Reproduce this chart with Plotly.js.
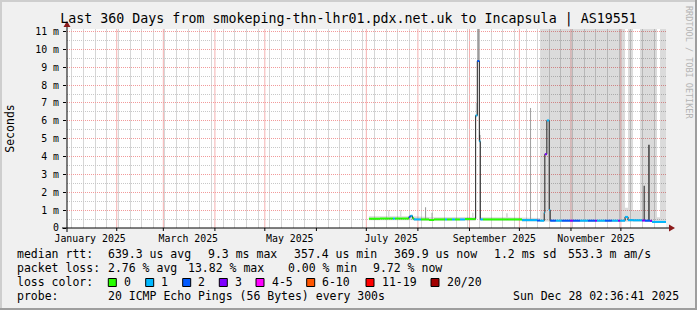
<!DOCTYPE html>
<html><head><meta charset="utf-8">
<script src="https://cdn.plot.ly/plotly-3.0.1.min.js"></script>
<style>html,body{margin:0;padding:0;background:#f0f0f0;overflow:hidden}#chart{width:697px;height:310px}</style>
</head><body><div id="chart"></div>
<script>
// ---------------- data ----------------
const chartTitle = 'Last 360 Days from smokeping-thn-lhr01.pdx.net.uk to Incapsula | AS19551';
const rangeStart = '2025-01-02 02:36:41';
const rangeEnd = '2025-12-28 02:36:41';

const xLabelDates = ['2025-01-16', '2025-03-16 00:30', '2025-05-16', '2025-07-16', '2025-09-16', '2025-11-16 00:30'];
const xLabelText = ['January 2025', 'March 2025', 'May 2025', 'July 2025', 'September 2025', 'November 2025'];
const monthStarts = ['2025-02-01', '2025-03-01', '2025-04-01', '2025-05-01', '2025-06-01', '2025-07-01',
  '2025-08-01', '2025-09-01', '2025-10-01', '2025-11-01', '2025-12-01'];
const yTickVals = [0, 1, 2, 3, 4, 5, 6, 7, 8, 9, 10, 11];
const yTickText = ['0', '1 m', '2 m', '3 m', '4 m', '5 m', '6 m', '7 m', '8 m', '9 m', '10 m', '11 m'];

// consolidated intervals (start times), last one ends at dataEnd
const intervalStart = [
  '2025-07-02 14:00', '2025-07-09 05:00', '2025-07-14 00:00', '2025-07-14 22:00', '2025-07-17 00:00',
  '2025-07-18 05:00', '2025-07-21 05:00', '2025-07-22 02:00', '2025-07-26 14:00', '2025-07-27 12:00',
  '2025-07-28 17:00', '2025-07-29 14:00', '2025-08-02 19:00', '2025-08-07 17:00', '2025-08-10 17:00',
  '2025-08-17 07:00', '2025-08-18 12:00', '2025-08-21 12:00', '2025-08-23 07:00', '2025-08-26 07:00',
  '2025-08-29 07:00', '2025-09-02 12:00', '2025-09-03 10:00', '2025-09-04 17:00', '2025-09-05 17:00',
  '2025-09-06 22:00', '2025-09-07 12:00', '2025-09-09 02:00', '2025-09-22 22:00', '2025-09-24 02:00',
  '2025-10-02 14:00', '2025-10-11 14:00', '2025-10-13 10:00', '2025-10-15 22:00', '2025-10-16 07:00',
  '2025-10-17 12:00', '2025-10-18 22:00', '2025-10-19 12:00', '2025-10-22 22:00', '2025-10-26 12:00',
  '2025-10-31 10:00', '2025-11-02 05:00', '2025-11-06 10:00', '2025-11-11 05:00', '2025-11-15 10:00',
  '2025-11-16 14:00', '2025-11-21 10:00', '2025-11-25 14:00', '2025-11-29 07:00', '2025-11-30 12:00',
  '2025-12-03 12:00', '2025-12-05 07:00', '2025-12-08 07:00', '2025-12-12 12:00', '2025-12-13 17:00',
  '2025-12-15 12:00', '2025-12-18 12:00', '2025-12-19 17:00', '2025-12-22 17:00', '2025-12-24 12:00'
];
const dataEnd = '2025-12-28 02:36';

// median rtt in ms
const medianMs = [
  0.52, 0.53, 0.53, 0.53, 0.53, 0.53, 0.53, 0.53, 0.62, 0.68,
  0.55, 0.48, 0.48, 0.45, 0.48, 0.48, 0.48, 0.48, 0.48, 0.48,
  0.50, 0.50, 0.50, 6.30, 9.35, 4.85, 0.48, 0.48, 0.48, 0.48,
  0.44, 0.42, 0.41, 0.86, 4.13, 6.02, 1.01, 0.41, 0.41, 0.41,
  0.41, 0.41, 0.41, 0.41, 0.41, 0.41, 0.41, 0.41, 0.41, 0.41,
  0.62, 0.44, 0.43, 0.43, 0.42, 0.41, 0.40, 0.34, 0.34, 0.34
];
// index into lossLabels
const lossLevel = [
  0, 0, 0, 0, 1, 0, 0, 0, 2, 1,
  0, 1, 0, 0, 0, 1, 0, 1, 0, 1,
  0, 0, 0, 1, 2, 1, 1, 0, 0, 0,
  1, 2, 1, 1, 3, 1, 1, 2, 1, 2,
  3, 2, 1, 2, 3, 1, 2, 1, 3, 1,
  1, 1, 1, 1, 3, 2, 3, 1, 1, 1
];
// light smoke band (ms)
const smokeLowMs = [
  0.43, 0.43, 0.43, 0.43, 0.43, 0.43, 0.43, 0.43, 0.45, 0.48,
  0.44, 0.40, 0.40, 0.38, 0.40, 0.40, 0.40, 0.40, 0.40, 0.40,
  0.40, 0.40, 0.40, 6.20, 9.30, 4.80, 0.40, 0.40, 0.40, 0.40,
  0.37, 0.36, 0.35, 0.35, 0.35, 0.35, 0.35, 0.35, 0.35, 0.35,
  0.35, 0.35, 0.35, 0.35, 0.35, 0.35, 0.35, 0.35, 0.35, 0.35,
  0.38, 0.35, 0.35, 0.35, 0.35, 0.35, 0.35, 0.30, 0.30, 0.30
];
const smokeHighMs = [
  0.66, 0.66, 1.00, 0.66, 0.66, 0.66, 1.00, 0.66, 0.72, 0.76,
  0.66, 0.62, 0.62, 0.60, 0.62, 0.62, 0.62, 0.62, 0.62, 0.62,
  0.62, 0.86, 0.62, 7.00, 12.0, 5.40, 0.60, 0.60, 0.82, 0.60,
  0.58, 0.56, 12.0, 12.0, 12.0, 12.0, 12.0, 12.0, 12.0, 12.0,
  12.0, 12.0, 12.0, 12.0, 12.0, 12.0, 12.0, 12.0, 12.0, 12.0,
  1.14, 12.0, 1.00, 12.0, 12.0, 12.0, 12.0, 12.0, 0.60, 12.0
];
// denser smoke spikes
const spikeStart = ['2025-08-05 07:00', '2025-08-09 05:00', '2025-09-05 17:00', '2025-09-06 22:00', '2025-10-07 10:00', '2025-12-14 14:00', '2025-12-17 07:00'];
const spikeEnd   = ['2025-08-05 22:00', '2025-08-09 19:00', '2025-09-06 22:00', '2025-09-07 12:00', '2025-10-08 00:00', '2025-12-15 12:00', '2025-12-18 10:00'];
const spikeLowMs  = [0.48, 0.45, 9.35, 4.85, 0.45, 0.41, 0.41];
const spikeHighMs = [1.16, 0.86, 12.0, 5.20, 6.72, 2.36, 4.66];
const spikeShade  = ['mid', 'mid', 'mid', 'dark', 'mid', 'dark', 'dark'];

const lossLabels = ['0', '1', '2', '3', '4-5', '6-10', '11-19', '20/20'];
const lossColors = ['#26ff00', '#00b8ff', '#0059ff', '#7e00ff', '#ff00ff', '#ff5500', '#ff0000', '#a10000'];

const statRtt = ['median rtt:', '639.3 us avg', '9.3 ms max', '357.4 us min', '369.9 us now', '1.2 ms sd', '553.3 m am/s'];
const statLoss = ['packet loss:', '2.76 % avg', '13.82 % max', '0.00 % min', '9.72 % now'];
const probeText = ['probe:', '20 ICMP Echo Pings (56 Bytes) every 300s'];
const stampText = 'Sun Dec 28 02:36:41 2025';

// ---------------- helpers ----------------
const L = 67, T = 29, PW = 599, PH = 199, W = 697, H = 310;
const Y_MAX = 11.14;
const PX = x => (x - L) / PW;
const PY = y => (T + PH - y) / PH;
const MONO = 'DejaVu Sans Mono';
const bounds = intervalStart.concat([dataEnd]);

function bandPolygon(lo, hi) {
  const xs = [], ys = [];
  for (let i = 0; i < intervalStart.length; i++) { xs.push(bounds[i], bounds[i + 1]); ys.push(hi[i], hi[i]); }
  for (let i = intervalStart.length - 1; i >= 0; i--) { xs.push(bounds[i + 1], bounds[i]); ys.push(lo[i], lo[i]); }
  xs.push(bounds[0]); ys.push(hi[0]);
  return {xs, ys};
}
const band = bandPolygon(smokeLowMs, smokeHighMs);

const traces = [];
traces.push({type: 'scatter', mode: 'lines', x: band.xs, y: band.ys, fill: 'toself',
  fillcolor: 'rgba(0,0,0,0.14)', line: {width: 0}, hoverinfo: 'skip'});

const shadeColor = {mid: '#9c9c9c', dark: '#5c5c5c'};
['mid', 'dark'].forEach(s => {
  const xs = [], ys = [];
  spikeStart.forEach((st, i) => {
    if (spikeShade[i] !== s) return;
    xs.push(st, spikeEnd[i], spikeEnd[i], st, st, null);
    ys.push(spikeLowMs[i], spikeLowMs[i], spikeHighMs[i], spikeHighMs[i], spikeLowMs[i], null);
  });
  traces.push({type: 'scatter', mode: 'lines', x: xs, y: ys, fill: 'toself', fillcolor: shadeColor[s],
    line: {width: 0}, hoverinfo: 'skip'});
});

traces.push({type: 'scatter', mode: 'lines', x: bounds, y: medianMs.concat([medianMs[medianMs.length - 1]]),
  line: {shape: 'hv', color: '#202020', width: 1}, hoverinfo: 'skip'});

lossLabels.forEach((lab, lv) => {
  const xs = [], ys = [];
  for (let i = 0; i < intervalStart.length; i++) {
    if (lossLevel[i] !== lv) continue;
    xs.push(bounds[i], bounds[i + 1], null);
    ys.push(medianMs[i], medianMs[i], null);
  }
  traces.push({type: 'scatter', mode: 'lines', name: lab, x: xs.length ? xs : [null], y: ys.length ? ys : [null],
    line: {color: lossColors[lv], width: 2}, hoverinfo: 'skip'});
});

// ---------------- grid / frame shapes ----------------
const shapes = [];
monthStarts.forEach(d => {
  shapes.push({type: 'line', layer: 'below', xref: 'x', yref: 'y', x0: d, x1: d, y0: 0, y1: Y_MAX,
    line: {color: '#f4b0b0', width: 1}});
  shapes.push({type: 'line', layer: 'above', xref: 'x', yref: 'paper', x0: d, x1: d, y0: PY(228), y1: PY(231),
    line: {color: '#000', width: 1}});
});
shapes.push({type: 'line', xref: 'paper', yref: 'paper', x0: PX(62), x1: PX(670), y0: PY(228), y1: PY(228), line: {color: '#000', width: 1}});
shapes.push({type: 'line', xref: 'paper', yref: 'paper', x0: PX(67), x1: PX(67), y0: PY(232), y1: PY(24), line: {color: '#000', width: 1}});
function tri(pts) { return 'M' + pts.map(p => PX(p[0]) + ',' + PY(p[1])).join(' L') + ' Z'; }
shapes.push({type: 'path', xref: 'paper', yref: 'paper', path: tri([[63.5, 27], [70.5, 27], [67, 21]]), fillcolor: '#8b1a1a', line: {width: 0}});
shapes.push({type: 'path', xref: 'paper', yref: 'paper', path: tri([[669, 224.5], [669, 231.5], [675, 228]]), fillcolor: '#8b1a1a', line: {width: 0}});
shapes.push({type: 'rect', xref: 'paper', yref: 'paper', x0: PX(0), x1: PX(W), y0: PY(2), y1: PY(0), fillcolor: '#cecece', line: {width: 0}});
shapes.push({type: 'rect', xref: 'paper', yref: 'paper', x0: PX(0), x1: PX(2), y0: PY(H), y1: PY(0), fillcolor: '#cecece', line: {width: 0}});
shapes.push({type: 'rect', xref: 'paper', yref: 'paper', x0: PX(0), x1: PX(W), y0: PY(H), y1: PY(H - 2), fillcolor: '#9e9e9e', line: {width: 0}});
shapes.push({type: 'rect', xref: 'paper', yref: 'paper', x0: PX(W - 2), x1: PX(W), y0: PY(H), y1: PY(0), fillcolor: '#9e9e9e', line: {width: 0}});

// ---------------- legend text ----------------
const annotations = [];
function txt(s, x, y, opts) {
  annotations.push(Object.assign({text: s, xref: 'paper', yref: 'paper', x: PX(x), y: PY(y), xanchor: 'left', yanchor: 'middle',
    showarrow: false, borderpad: 0, font: {family: MONO, size: 11.5, color: '#000'}}, opts || {}));
}
const rttX = [16, 107.3, 206.7, 293.3, 393.3, 493.3, 566.7];
statRtt.forEach((s, i) => txt(s, rttX[i], 254));
const lossX = [16, 107.3, 186.7, 286.7, 371.7];
statLoss.forEach((s, i) => txt(s, lossX[i], 268));
txt('loss color:', 16, 282);
const boxX = [108.3, 145.7, 182.7, 219.3, 256, 306.7, 366, 431];
lossLabels.forEach((lab, i) => {
  shapes.push({type: 'rect', xref: 'paper', yref: 'paper', x0: PX(boxX[i]), x1: PX(boxX[i] + 8), y0: PY(286.5), y1: PY(278.5),
    fillcolor: lossColors[i], line: {color: '#000', width: 1}});
  txt(lab, boxX[i] + 14.5, 282);
});
txt(probeText[0], 16, 296);
txt(probeText[1], 107.3, 296);
txt(stampText, 680, 296, {xanchor: 'right'});
annotations.push({text: 'RRDTOOL / TOBI OETIKER', textangle: 90, xref: 'paper', yref: 'paper', x: PX(689), y: PY(62),
  xanchor: 'center', yanchor: 'middle', showarrow: false, font: {family: MONO, size: 8.5, color: '#b4b4b4'}});

const DOT = '1px,1px';
const layout = {
  width: W, height: H,
  margin: {l: L, r: W - L - PW, t: T, b: H - T - PH, pad: 0},
  paper_bgcolor: '#f0f0f0', plot_bgcolor: '#ffffff',
  showlegend: false,
  font: {family: MONO, size: 10, color: '#000'},
  title: {text: chartTitle, x: 0.5, xref: 'container', xanchor: 'center', y: 1 - 18.5 / H, yref: 'container', yanchor: 'middle',
    font: {family: MONO, size: 13.3, color: '#000'}},
  xaxis: {type: 'date', range: [rangeStart, rangeEnd], tickmode: 'array', tickvals: xLabelDates, ticktext: xLabelText,
    ticks: '', showgrid: false, zeroline: false, showline: false, tickfont: {family: MONO, size: 9.9, color: '#000'},
    ticklabelstandoff: 3, fixedrange: true,
    minor: {tickmode: 'linear', tick0: '2025-01-05', dtick: 7 * 86400000, showgrid: true, gridcolor: '#d6d6d6', gridwidth: 1, ticks: ''}},
  yaxis: {range: [0, Y_MAX], tickmode: 'array', tickvals: yTickVals, ticktext: yTickText, ticks: 'outside', ticklen: 3,
    tickcolor: '#000', tickwidth: 1, showgrid: true, gridcolor: '#f29a9a', gridwidth: 1, griddash: DOT,
    minor: {tickmode: 'linear', tick0: 0, dtick: 0.5, showgrid: true, gridcolor: '#c8c8c8', griddash: DOT, ticks: ''},
    zeroline: false, showline: false, tickfont: {family: MONO, size: 9.9, color: '#000'}, ticklabelstandoff: 2,
    title: {text: 'Seconds', font: {family: MONO, size: 11.5, color: '#000'}, standoff: 18}, fixedrange: true},
  shapes: shapes, annotations: annotations
};
Plotly.newPlot('chart', traces, layout, {displayModeBar: false, staticPlot: true});
</script></body></html>
